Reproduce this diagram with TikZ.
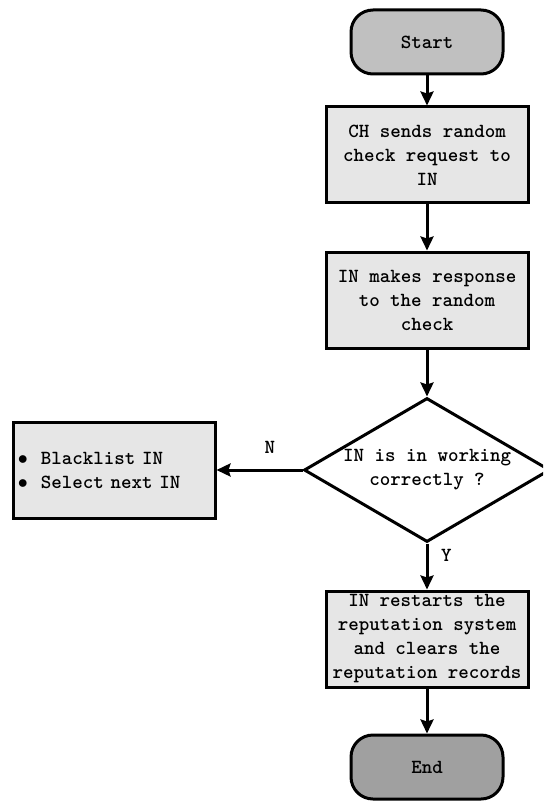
\documentclass[tikz,border=0pt]{standalone}
\usepackage{amsmath}
\usepackage{xcolor}
\usetikzlibrary{shapes.geometric,arrows.meta}

\definecolor{startgray}{RGB}{192,192,192}
\definecolor{endgray}{RGB}{160,160,160}
\definecolor{boxgray}{RGB}{230,230,230}

\begin{document}
\begin{tikzpicture}[x=0.5pt, y=-0.5pt,
        every node/.style={font=\ttfamily\bfseries\fontsize{10}{12}\selectfont},
        terminal/.style={draw=black, line width=1.5pt, rounded corners=11pt,
            minimum width=76pt, minimum height=32pt},
        process/.style={draw=black, line width=1.5pt, fill=boxgray, align=center,
            minimum width=101pt, minimum height=48pt, inner sep=1pt},
        decision/.style={draw=black, line width=1.5pt, fill=white, diamond, aspect=1.7,
            minimum width=123pt, minimum height=72pt, inner sep=0pt, align=center},
        arr/.style={line width=1.5pt, -{Stealth[length=7pt, width=6.5pt, inset=1pt]}}]
        % Frame of the picture
        \clip (0, 0) rectangle (543, 802);
        % Draw the start and end
        \node[terminal, fill=startgray] (start) at (427, 42) {Start};
        \node[terminal, fill=endgray] (end) at (427, 767) {End};
        % Draw the steps
        \node[process] (send) at (427, 155) {CH sends random\\check request to\\IN};
        \node[process] (reply) at (427, 300) {IN makes response\\to the random\\check};
        \node[decision] (check) at (427, 470) {IN is in working\\correctly ?};
        \node[process] (reset) at (427, 639) {IN restarts the\\reputation system\\and clears the\\reputation records};
        \node[process, align=left, text width=96pt, inner xsep=2pt] (black) at (114, 470)
            {$\bullet$\hspace{6.5pt}Blacklist IN\\$\bullet$\hspace{6.5pt}Select next IN};
        % Draw the arrows
        \draw[arr] (start) -- (send);
        \draw[arr] (send) -- (reply);
        \draw[arr] (reply) -- (check);
        \draw[arr] (check.west) -- node[pos=0.38, above=4pt] {N} (black.east);
        \draw[arr] (check.south) -- node[pos=0.25, right=3pt] {Y} (reset.north);
        \draw[arr] (reset) -- (end);
    \end{tikzpicture}
\end{document}
